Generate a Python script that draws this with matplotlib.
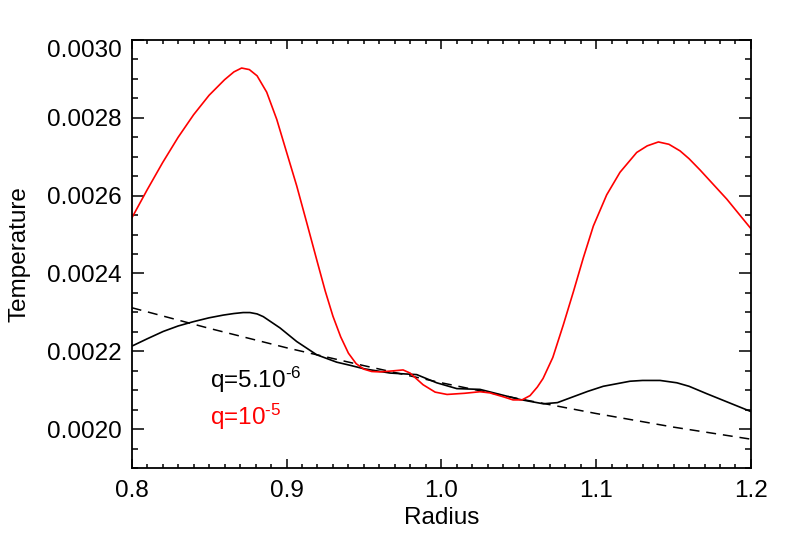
import matplotlib
matplotlib.use("Agg")
import matplotlib.pyplot as plt
from matplotlib.ticker import MultipleLocator

# --- settings ---
plt.rcParams.update({
    "font.family": ["Liberation Sans", "DejaVu Sans"],
    "font.size": 17.5,
    "mathtext.fontset": "custom",
    "mathtext.rm": "Liberation Sans",
    "mathtext.default": "regular",
    "axes.linewidth": 1.3,
})

# --- data ---
# q = 1e-5 (red)
r_red = [0.800, 0.810, 0.820, 0.830, 0.840, 0.850, 0.860, 0.866, 0.871, 0.876,
         0.881, 0.8872, 0.8937, 0.9001, 0.9066, 0.9131, 0.920, 0.925, 0.930,
         0.935, 0.940, 0.945, 0.950, 0.955, 0.960, 0.967, 0.9753, 0.9798,
         0.9882, 0.996, 1.0037, 1.015, 1.025, 1.0314, 1.040, 1.0463, 1.0521,
         1.0573, 1.062, 1.0657, 1.072, 1.0788, 1.0853, 1.0917, 1.0982, 1.1068,
         1.1154, 1.1262, 1.133, 1.1402, 1.147, 1.1542, 1.160, 1.1671, 1.1844,
         1.200]
T_red = [0.002542, 0.002615, 0.002685, 0.002750, 0.002808, 0.002858, 0.002898,
         0.002918, 0.002928, 0.002924, 0.002908, 0.002866, 0.002796, 0.002711,
         0.002625, 0.002530, 0.002428, 0.002355, 0.002290, 0.002237, 0.002195,
         0.002168, 0.002154, 0.002148, 0.002147, 0.002149, 0.002152, 0.002144,
         0.002114, 0.002095, 0.002089, 0.002092, 0.002096, 0.002093, 0.002083,
         0.002075, 0.002075, 0.002086, 0.002108, 0.002130, 0.002184, 0.002268,
         0.002353, 0.002440, 0.002522, 0.002602, 0.002660, 0.002711, 0.002728,
         0.002738, 0.002732, 0.002715, 0.002695, 0.002666, 0.002591, 0.002515]

# q = 5e-6 (black solid)
r_blk = [0.800, 0.810, 0.8204, 0.830, 0.8398, 0.850, 0.8592, 0.866, 0.872,
         0.8764, 0.881, 0.885, 0.8958, 0.9066, 0.9195, 0.9324, 0.941, 0.950,
         0.9669, 0.9841, 0.997, 1.010, 1.025, 1.0379, 1.0508, 1.0659, 1.075,
         1.0831, 1.0946, 1.1046, 1.1219, 1.130, 1.1413, 1.1521, 1.160, 1.1714,
         1.200]
T_blk = [0.002213, 0.002232, 0.002251, 0.002265, 0.002276, 0.002286, 0.002293,
         0.002297, 0.0022995, 0.0022995, 0.002296, 0.002289, 0.002260, 0.002225,
         0.002191, 0.002172, 0.002164, 0.002155, 0.002144, 0.002140, 0.002119,
         0.002104, 0.002102, 0.002089, 0.002076, 0.002065, 0.002068, 0.002080,
         0.002097, 0.002110, 0.002123, 0.002125, 0.002125, 0.002119, 0.002110,
         0.002091, 0.002045]

# unperturbed profile (dashed)
r_ref = [0.80, 0.85, 0.90, 0.95, 1.00, 1.05, 1.10, 1.15, 1.20]
T_ref = [0.002312, 0.002259, 0.002209, 0.002163, 0.002119, 0.002078, 0.002040,
         0.002005, 0.001974]

xticks = [0.8, 0.9, 1.0, 1.1, 1.2]
yticks = [0.0020, 0.0022, 0.0024, 0.0026, 0.0028, 0.0030]

# --- plot ---
fig = plt.figure(figsize=(7.89, 5.52), dpi=100)
ax = fig.add_axes([0.1669, 0.1522, 0.7849, 0.7753])

ax.plot(r_ref, T_ref, color="black", lw=1.1, linestyle=(0, (6.5, 4.5)))
ax.plot(r_blk, T_blk, color="black", lw=1.2)
ax.plot(r_red, T_red, color="red", lw=1.2)

ax.text(0.8507, 0.002106, r"q=5.10$^{\text{-6}}$", color="black", va="baseline")
ax.text(0.8507, 0.002012, r"q=10$^{\text{-5}}$", color="red", va="baseline")

ax.set_xlim(0.8, 1.2)
ax.set_ylim(0.0019, 0.0030)
ax.set_xticks(xticks)
ax.set_xticklabels(["0.8", "0.9", "1.0", "1.1", "1.2"])
ax.set_yticks(yticks)
ax.set_yticklabels(["%.4f" % v for v in yticks])
ax.xaxis.set_minor_locator(MultipleLocator(0.01))
ax.yaxis.set_minor_locator(MultipleLocator(0.00005))

ax.tick_params(which="both", direction="in", top=True, right=True, width=1.1)
ax.tick_params(axis="x", which="major", length=6.2, pad=9)
ax.tick_params(axis="x", which="minor", length=3.1)
ax.tick_params(axis="y", which="major", length=8.9, pad=7)
ax.tick_params(axis="y", which="minor", length=4.5)

# top label sits below its tick, as in the original
ax.get_yticklabels()[-1].set_va("top")

ax.set_xlabel("Radius", labelpad=3)
ax.set_ylabel("Temperature", labelpad=12)

plt.savefig("out.png", dpi=100)
